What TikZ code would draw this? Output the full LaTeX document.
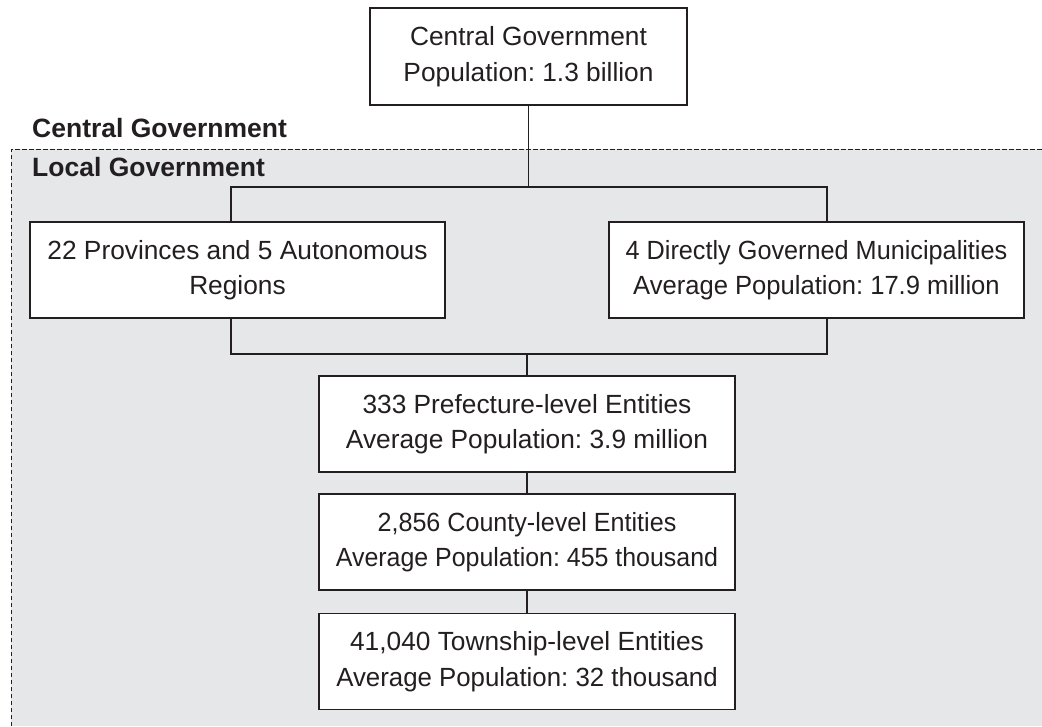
\documentclass[tikz,border=0pt]{standalone}
\usepackage{graphicx}
\usepackage{fontspec}
\setmainfont{Liberation Sans}
\frenchspacing
\definecolor{ink}{HTML}{231F20}
\definecolor{panel}{HTML}{E6E7E9}
\newcommand\hsq[2]{\scalebox{#1}[1]{#2}}
\begin{document}
\begin{tikzpicture}[x=1pt,y=-1pt,
  box/.style={draw=ink, line width=1.5pt, fill=white, text=ink, inner sep=0pt,
    align=center, font=\fontsize{26.3}{35.5}\selectfont},
  wide/.style={box, minimum width=415pt, minimum height=96pt},
  mid/.style={box, minimum width=416pt, minimum height=96pt},
  conn/.style={draw=ink, line width=1.5pt},
  lbl/.style={anchor=base west, inner sep=0pt, text=ink, font=\fontsize{26.5}{30}\selectfont\bfseries}]
\useasboundingbox (0,0) rectangle (1042,726);
\fill[white] (0,0) rectangle (1042,726);
% local government panel
\fill[panel] (11,149) rectangle (1042,726);
\draw[ink, line width=1pt, dash pattern=on 4.5pt off 2.5pt] (11,726) -- (11,149) -- (1042,149);
\node[lbl] (lblc) at (32,137) {Central Government};
\node[lbl] (lbll) at (32,176) {Local Government};
% boxes
\node[box, minimum width=317pt, minimum height=97pt] (cg) at (528.5,56.5) {Central Government\\Population: 1.3 billion};
\node[wide] (prov) at (237.5,270) {22 Provinces and 5 Autonomous\\Regions};
\node[wide] (muni) at (816.5,270) {\hsq{0.96}{4 Directly Governed Municipalities}\\\hsq{0.973}{Average Population: 17.9 million}};
\node[mid] (pref) at (527,424) {333 Prefecture-level Entities\\Average Population: 3.9 million};
\node[mid] (cnty) at (527,542) {\hsq{0.955}{2,856 County-level Entities}\\\hsq{0.948}{Average Population: 455 thousand}};
\node[mid] (town) at (527,661.5) {41,040 Township-level Entities\\\hsq{0.982}{Average Population: 32 thousand}};
% junctions
\coordinate (j1) at (528.5,187);
\coordinate (pl) at (231,187);
\coordinate (pr) at (827,187);
\coordinate (ql) at (231,354);
\coordinate (qr) at (827,354);
\coordinate (qm) at (527,354);
% connectors
\draw[conn] (cg.south) -- (j1);
\draw[conn] (pl |- prov.north) -- (pl) -- (pr) -- (pr |- muni.north);
\draw[conn] (pl |- prov.south) -- (ql) -- (qr) -- (qr |- muni.south);
\draw[conn] (qm) -- (pref.north);
\draw[conn] (pref.south) -- (cnty.north);
\draw[conn] (cnty.south) -- (town.north);
\end{tikzpicture}
\end{document}
